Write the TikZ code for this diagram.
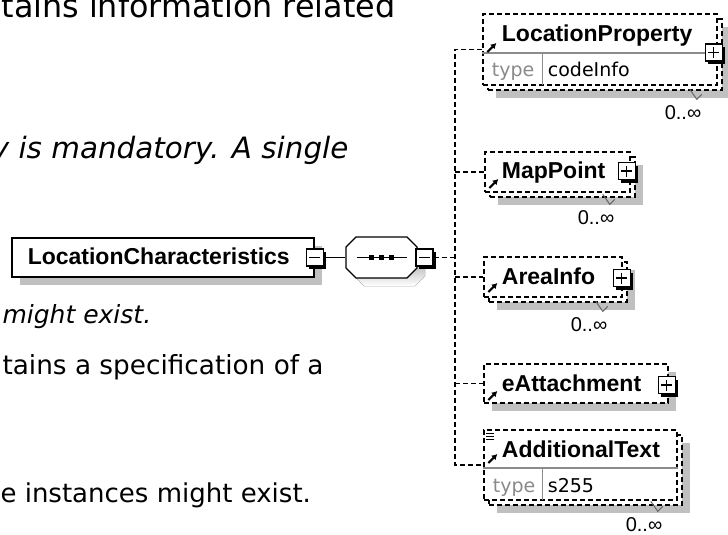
\documentclass[tikz,border=0pt]{standalone}
\usepackage{fontspec}
\setmainfont{DejaVu Sans}
\newfontfamily\elfont{Liberation Sans}
\usetikzlibrary{arrows.meta,shadows,calc}
\definecolor{shade}{HTML}{C0C0C0}
\definecolor{sepline}{HTML}{8C8C8C}
\definecolor{typegray}{HTML}{8A8A8A}

\begin{document}
\begin{tikzpicture}[x=1pt,y=-1pt,line width=1.1pt,
  doc/.style={anchor=base west,inner sep=0,font=\fontsize{26}{30}\selectfont},
  docit/.style={doc,font=\fontsize{25}{30}\selectfont\itshape},
  dashln/.style={dash pattern=on 5pt off 3pt,line width=1.3pt},
  shade8/.style={general shadow={fill=shade,shadow xshift=8pt,shadow yshift=-8pt}},
  elbox/.style={draw,dashln,fill=white,inner sep=0},
  elname/.style={anchor=base west,inner sep=0,
    font=\elfont\fontsize{23}{26}\selectfont\bfseries},
  typekey/.style={anchor=base west,inner sep=0,text=typegray,font=\fontsize{19}{21}\selectfont},
  typeval/.style={anchor=base west,inner sep=0,font=\fontsize{19}{21}\selectfont},
  occurs/.style={inner sep=0,font=\elfont\fontsize{20}{22}\selectfont},
  occtick/.style={draw=black!60,line width=1pt},
  sepl/.style={draw=sepline,line width=1.2pt},
  pmbox/.style={draw,fill=white,line width=1.3pt,minimum size=17pt,inner sep=0,
    general shadow={fill=black,shadow xshift=3pt,shadow yshift=-3pt}},
  minusbox/.style={pmbox,path picture={
    \draw[line width=1.3pt] ([shift={(3,0)}]path picture bounding box.west)
      -- ([shift={(-3,0)}]path picture bounding box.east);}},
  plusbox/.style={pmbox,path picture={
    \draw[line width=1.3pt] ([shift={(3,0)}]path picture bounding box.west)
      -- ([shift={(-3,0)}]path picture bounding box.east);
    \draw[line width=1.3pt] ([shift={(0,3)}]path picture bounding box.north)
      -- ([shift={(0,-3)}]path picture bounding box.south);}},
  refarrow/.style={-{Latex[length=5.5pt,width=6.5pt]},line width=2pt}]

\useasboundingbox (0,0) rectangle (728,535);

% ============ documentation text behind the diagram ============
\node[doc,font=\fontsize{31.8}{36}\selectfont] (d1) at (1,18) {tains information related};
\node[docit,font=\fontsize{29.4}{34}\selectfont\itshape] (d2) at (-8.7,158)
  {y is mandatory. A single};
\node[docit] (d3) at (2,323) {might exist.};
\node[doc,font=\fontsize{26.3}{30}\selectfont] (d4) at (2,374) {tains a specification of a};
\node[doc] (d5) at (0,502) {e instances might exist.};

% ============ LocationCharacteristics + sequence ============
\node[draw,fill=white,line width=1.6pt,minimum width=302pt,minimum height=39pt,
  inner sep=0,shade8] (lc) at (163,257.5) {};
\node[elname] (lcname) at ([shift={(16,7)}]lc.west) {LocationCharacteristics};
\node[minusbox] (lcpm) at (lc.east) {};

\node[minimum width=71pt,minimum height=41pt,inner sep=0] (seq) at (381.5,257.5) {};
\begin{scope}[shift={(seq.center)}]
 \fill[shade,shift={(8,8)}] (-35.5,-10.5) -- (-25.5,-20.5) -- (25.5,-20.5) -- (35.5,-10.5)
   -- (35.5,10.5) -- (25.5,20.5) -- (-25.5,20.5) -- (-35.5,10.5) -- cycle;
 \draw[fill=white,line width=1.2pt] (-35.5,-10.5) -- (-25.5,-20.5) -- (25.5,-20.5)
   -- (35.5,-10.5) -- (35.5,10.5) -- (25.5,20.5) -- (-25.5,20.5) -- (-35.5,10.5) -- cycle;
 \draw[line width=1.2pt] (-25,0) -- (25,0);
 \foreach \dx in {-10,0,10}
   \fill (\dx-2.5,-2.5) rectangle ++(5,5);
\end{scope}
\node[minusbox] (seqpm) at ([shift={(7,0)}]seq.east) {};
\coordinate (bus) at (455,257.5);

\draw[line width=1.2pt] (lcpm) -- (seq);
\draw[dashln] (seqpm) -- (bus);

% ============ children ============
% LocationProperty (0..oo, typed)
\node[elbox,shade8,minimum width=234pt,minimum height=71pt] (lpback) at (605,54.5) {};
\node[elbox,minimum width=234pt,minimum height=71pt] (lp) at (600,49.5) {};
\draw[sepl] ([shift={(0,3.5)}]lp.west) -- ([shift={(0,3.5)}]lp.east);
\draw[sepl] ([shift={(60,3.5)}]lp.west) -- ([shift={(60,35.5)}]lp.west);
\node[elname] (lpname) at ([shift={(19,-8)}]lp.west) {LocationProperty};
\node[typekey] (lpkey) at ([shift={(9,27)}]lp.west) {type};
\node[typeval] (lpval) at ([shift={(65,27)}]lp.west) {codeInfo};
\node[plusbox] (lppm) at ([shift={(-4,3)}]lp.east) {};
\node[occurs] (lpocc) at (683,113) {0..∞};

% MapPoint (0..oo)
\node[elbox,shade8,minimum width=145pt,minimum height=40pt] (mpback) at (562.5,177) {};
\node[elbox,minimum width=145pt,minimum height=40pt] (mp) at (557.5,172) {};
\node[elname] (mpname) at ([shift={(17,6)}]mp.west) {MapPoint};
\node[plusbox] (mppm) at ([shift={(-4,-1)}]mp.east) {};
\node[occurs] (mpocc) at (596,218) {0..∞};

% AreaInfo (0..oo)
\node[elbox,shade8,minimum width=138pt,minimum height=40pt] (aiback) at (558,282) {};
\node[elbox,minimum width=138pt,minimum height=40pt] (ai) at (553,277) {};
\node[elname] (ainame) at ([shift={(18,7)}]ai.west) {AreaInfo};
\node[plusbox] (aipm) at ([shift={(-1,1)}]ai.east) {};
\node[occurs] (aiocc) at (589,325) {0..∞};

% eAttachment
\node[elbox,shade8,minimum width=184pt,minimum height=39pt] (ea) at (576,383.5) {};
\node[elname] (eaname) at ([shift={(18,7.5)}]ea.west) {eAttachment};
\node[plusbox] (eapm) at ([shift={(-2,1.5)}]ea.east) {};

% AdditionalText (0..oo, typed, simple content)
\node[elbox,shade8,minimum width=193pt,minimum height=70pt] (atback) at (585.5,470) {};
\node[elbox,minimum width=193pt,minimum height=70pt] (at) at (580.5,465) {};
\draw[sepl] ([shift={(0,3)}]at.west) -- ([shift={(0,3)}]at.east);
\draw[sepl] ([shift={(59,3)}]at.west) -- ([shift={(59,35)}]at.west);
\node[elname] (atname) at ([shift={(18,-8)}]at.west) {AdditionalText};
\node[typekey] (atkey) at ([shift={(9,27)}]at.west) {type};
\node[typeval] (atval) at ([shift={(64,27)}]at.west) {s255};
\node[occurs] (atocc) at (644,525) {0..∞};
\foreach \dy in {-32,-29,-26}
  \draw[line width=.9pt] ([shift={(3,\dy)}]at.west) -- ++(8,0);

% reference arrows and occurrence ticks
\foreach \e/\dy in {lp/2.5,mp/16,ai/15,ea/16.5,at/-2}
  \draw[refarrow] ([shift={(5,\dy)}]\e.west) -- ++(9,-9);
\foreach \o in {lpocc,mpocc,aiocc,atocc}
  \draw[occtick] ([shift={(-12,-16)}]\o.north east) -- ([shift={(-5,-6)}]\o.north east)
    -- ([shift={(0,-11)}]\o.north east);

% ============ connectors ============
\draw[dashln] (lp.west) -| (bus) |- (at.west);
\foreach \e in {mp,ai,ea}
  \draw[dashln] (bus |- \e.west) -- (\e.west);

\end{tikzpicture}
\end{document}
